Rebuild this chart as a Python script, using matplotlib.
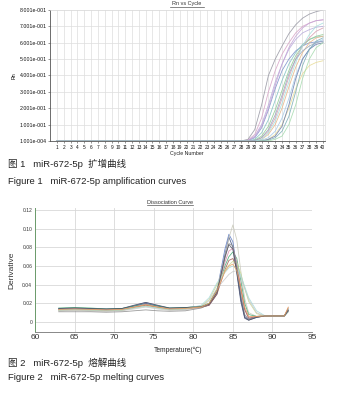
import matplotlib
matplotlib.use('Agg')
import matplotlib.pyplot as plt
from matplotlib.lines import Line2D

# ---- amplification data (Rn at cycles 28..40, flat before) ----
cycles = list(range(1, 41))
late_cycles = list(range(28, 41))
amp_curves = [
    [0.0, 0.01, 0.07, 0.22, 0.40, 0.50, 0.58, 0.655, 0.71, 0.75, 0.775, 0.79, 0.80],
    [0.0, 0.005, 0.04, 0.14, 0.30, 0.43, 0.53, 0.60, 0.66, 0.70, 0.72, 0.735, 0.74],
    [0.0, 0.003, 0.03, 0.10, 0.22, 0.36, 0.47, 0.56, 0.62, 0.66, 0.68, 0.695, 0.70],
    [0.0, 0.002, 0.02, 0.08, 0.19, 0.32, 0.43, 0.50, 0.55, 0.58, 0.60, 0.605, 0.61],
    [0.0, 0.0, 0.01, 0.05, 0.13, 0.25, 0.37, 0.47, 0.54, 0.59, 0.62, 0.635, 0.64],
    [0.0, 0.0, 0.005, 0.03, 0.09, 0.19, 0.31, 0.43, 0.52, 0.58, 0.62, 0.64, 0.65],
    [0.0, 0.003, 0.025, 0.09, 0.20, 0.34, 0.47, 0.57, 0.64, 0.69, 0.72, 0.735, 0.74],
    [0.0, 0.0, 0.0, 0.01, 0.04, 0.10, 0.20, 0.33, 0.45, 0.54, 0.60, 0.63, 0.64],
    [0.0, 0.0, 0.0, 0.005, 0.02, 0.06, 0.14, 0.26, 0.40, 0.50, 0.56, 0.60, 0.62],
    [0.0, 0.0, 0.0, 0.0, 0.01, 0.04, 0.10, 0.20, 0.32, 0.41, 0.46, 0.48, 0.49],
    [0.0, 0.0, 0.0, 0.0, 0.01, 0.03, 0.09, 0.22, 0.38, 0.50, 0.56, 0.59, 0.60],
    [0.0, 0.0, 0.0, 0.0, 0.005, 0.02, 0.06, 0.15, 0.30, 0.46, 0.56, 0.61, 0.63],
    [0.0, 0.0, 0.0, 0.0, 0.0, 0.01, 0.03, 0.10, 0.22, 0.38, 0.50, 0.57, 0.60],
    [0.0, 0.0, 0.002, 0.02, 0.06, 0.14, 0.26, 0.39, 0.50, 0.58, 0.63, 0.67, 0.69],
    [0.0, 0.0, 0.0, 0.01, 0.05, 0.12, 0.23, 0.36, 0.48, 0.58, 0.65, 0.70, 0.72],
    [0.0, 0.0, 0.003, 0.02, 0.07, 0.16, 0.28, 0.41, 0.50, 0.55, 0.58, 0.60, 0.61],
]
amp_colors = ['#9a9aa6', '#d8a6c8', '#b9addb', '#7f93cc', '#86c4c4', '#94cc94',
              '#c6a6d8', '#e8b888', '#a8cce8', '#e8dc98', '#6f7fae', '#7fb0b8',
              '#a8dcb0', '#d6a0b0', '#a8e0e0', '#98a8c0']
amp_yticks = [0.0001, 0.1001, 0.2001, 0.3001, 0.4001, 0.5001, 0.6001, 0.7001, 0.8001]
amp_ylabels = ['1.001e-004', '1.001e-001', '2.001e-001', '3.001e-001', '4.001e-001',
               '5.001e-001', '6.001e-001', '7.001e-001', '8.001e-001']

# ---- melt curve data ----
temps = [63, 65, 67, 69, 71, 72.5, 74, 75.5, 77, 79, 81, 82, 83, 84, 84.5, 85, 85.5,
         86, 86.5, 87, 88, 89, 90, 91.5, 92]
melt_curves = [
    [0.014, 0.0145, 0.014, 0.0135, 0.014, 0.017, 0.020, 0.017, 0.0145, 0.015, 0.016, 0.018, 0.030, 0.072, 0.091, 0.080, 0.052, 0.022, 0.004, 0.002, 0.005, 0.0065, 0.0065, 0.0065, 0.012],
    [0.0145, 0.015, 0.0145, 0.014, 0.0145, 0.0175, 0.021, 0.0175, 0.015, 0.0155, 0.0165, 0.019, 0.034, 0.078, 0.094, 0.086, 0.058, 0.027, 0.006, 0.003, 0.0055, 0.0065, 0.0065, 0.0065, 0.013],
    [0.012, 0.0125, 0.012, 0.012, 0.0125, 0.015, 0.018, 0.016, 0.014, 0.0145, 0.016, 0.020, 0.036, 0.070, 0.090, 0.104, 0.088, 0.055, 0.025, 0.010, 0.006, 0.0065, 0.0065, 0.0065, 0.012],
    [0.015, 0.0155, 0.015, 0.014, 0.0145, 0.017, 0.019, 0.017, 0.015, 0.0155, 0.017, 0.020, 0.035, 0.060, 0.070, 0.075, 0.068, 0.045, 0.020, 0.008, 0.006, 0.0065, 0.0065, 0.0065, 0.013],
    [0.0135, 0.014, 0.0135, 0.013, 0.0135, 0.016, 0.019, 0.016, 0.014, 0.0145, 0.016, 0.019, 0.033, 0.064, 0.076, 0.079, 0.064, 0.038, 0.014, 0.005, 0.006, 0.0065, 0.0065, 0.0065, 0.012],
    [0.013, 0.0135, 0.013, 0.0125, 0.013, 0.0155, 0.018, 0.0155, 0.0135, 0.014, 0.0155, 0.018, 0.030, 0.056, 0.066, 0.068, 0.058, 0.036, 0.013, 0.004, 0.006, 0.0065, 0.0065, 0.0065, 0.015],
    [0.0125, 0.013, 0.0125, 0.012, 0.0125, 0.015, 0.017, 0.015, 0.013, 0.014, 0.017, 0.024, 0.040, 0.055, 0.061, 0.065, 0.063, 0.052, 0.036, 0.022, 0.009, 0.0065, 0.0065, 0.0065, 0.011],
    [0.012, 0.0125, 0.012, 0.0115, 0.012, 0.014, 0.016, 0.014, 0.0125, 0.013, 0.016, 0.023, 0.036, 0.046, 0.051, 0.054, 0.055, 0.048, 0.036, 0.024, 0.010, 0.0065, 0.0065, 0.0065, 0.011],
    [0.013, 0.0135, 0.013, 0.0125, 0.013, 0.015, 0.017, 0.015, 0.0135, 0.014, 0.018, 0.026, 0.042, 0.053, 0.058, 0.060, 0.058, 0.050, 0.038, 0.026, 0.012, 0.007, 0.0065, 0.0065, 0.011],
    [0.011, 0.011, 0.011, 0.0105, 0.011, 0.012, 0.013, 0.012, 0.0115, 0.012, 0.015, 0.019, 0.032, 0.068, 0.084, 0.082, 0.060, 0.030, 0.008, 0.003, 0.005, 0.0065, 0.0065, 0.0065, 0.012],
    [0.0145, 0.015, 0.0145, 0.014, 0.0145, 0.018, 0.021, 0.018, 0.015, 0.0155, 0.0165, 0.019, 0.032, 0.070, 0.083, 0.078, 0.054, 0.025, 0.005, 0.002, 0.005, 0.0065, 0.0065, 0.0065, 0.012],
    [0.0135, 0.014, 0.0135, 0.013, 0.0135, 0.016, 0.0185, 0.016, 0.014, 0.0145, 0.016, 0.020, 0.034, 0.054, 0.060, 0.062, 0.055, 0.036, 0.016, 0.006, 0.006, 0.0065, 0.0065, 0.0065, 0.016],
]
melt_colors = ['#3a4a78', '#5a78c0', '#c8c8b8', '#40a870', '#d88aa8', '#a05a50',
               '#c8d890', '#c8c8c8', '#a8d8d8', '#8a8a8a', '#505060', '#e8a060']
melt_xticks = [60, 65, 70, 75, 80, 85, 90, 95]
melt_yticks = [0, 0.02, 0.04, 0.06, 0.08, 0.10, 0.12]
melt_ylabels = ['0', '0.02', '0.04', '0.06', '0.08', '0.10', '0.12']

W, H = 349, 397
fig = plt.figure(figsize=(W / 100, H / 100), dpi=100)
fig.patch.set_facecolor('white')
cap_font = ['Liberation Sans', 'Noto Sans CJK SC', 'DejaVu Sans']


def px_axes(l, t, r, b):
    return fig.add_axes([l / W, 1 - b / H, (r - l) / W, (b - t) / H])


def fig_text(x, y, s, **kw):
    return fig.text(x / W, 1 - y / H, s, **kw)


def underline(x0, x1, y):
    fig.add_artist(Line2D([x0 / W, x1 / W], [1 - y / H, 1 - y / H],
                          color='#555555', lw=0.5, transform=fig.transFigure))


# ---------- amplification plot ----------
ax1 = px_axes(50.2, 10, 325, 141)
for vals, col in zip(amp_curves, amp_colors):
    ys = [0.0] * (len(cycles) - len(late_cycles)) + vals
    ax1.plot(cycles, ys, color=col, lw=0.6, alpha=0.9)
ax1.set_xlim(0, 40.3)
ax1.set_ylim(0, 0.8)
ax1.set_xticks(cycles)
ax1.set_xticklabels([str(c) for c in cycles], fontsize=3.4, family='Liberation Sans',
                    color='#111111')
ax1.set_yticks(amp_yticks)
ax1.set_yticklabels(amp_ylabels, fontsize=3.8, family='Liberation Sans', color='#111111')
ax1.tick_params(axis='both', length=1.5, width=0.4, pad=1.2, colors='#444444')
for lab in ax1.get_xticklabels() + ax1.get_yticklabels():
    lab.set_color('#111111')
ax1.grid(True, color='#dddddd', lw=0.5)
ax1.set_axisbelow(True)
for side in ['top', 'right']:
    ax1.spines[side].set_color('#dddddd')
    ax1.spines[side].set_linewidth(0.5)
for side in ['left', 'bottom']:
    ax1.spines[side].set_color('#555555')
    ax1.spines[side].set_linewidth(0.6)
ax1.set_ylabel('Rn', fontsize=3.8, family='Liberation Sans', labelpad=2)
fig_text(187, 4, 'Rn vs Cycle', fontsize=4, family='Liberation Sans', color='#333333',
         ha='center', va='center')
underline(170, 204, 6.8)
fig_text(187, 154, 'Cycle Number', fontsize=3.8, family='Liberation Sans', color='#222222',
         ha='center', va='center')

fig_text(8, 164, '图 1   miR-672-5p  扩增曲线', fontsize=6.8, family=cap_font,
         color='#222222', ha='left', va='center')
fig_text(8, 181, 'Figure 1   miR-672-5p amplification curves', fontsize=6.8,
         family=cap_font, color='#222222', ha='left', va='center')

# ---------- melt plot ----------
ax2 = px_axes(35, 208.3, 312, 332.3)
for vals, col in zip(melt_curves, melt_colors):
    ax2.plot(temps, vals, color=col, lw=0.6, alpha=0.85)
ax2.set_xlim(60, 95)
ax2.set_ylim(-0.011, 0.1218)
ax2.set_xticks(melt_xticks)
ax2.set_xticklabels([str(t) for t in melt_xticks], fontsize=6, family='Liberation Sans')
ax2.set_yticks(melt_yticks)
ax2.set_yticklabels(melt_ylabels, fontsize=3.6, family='Liberation Sans', color='#222222')
ax2.tick_params(axis='both', length=0, pad=2, colors='#333333')
ax2.tick_params(axis='x', pad=1.5)
ax2.grid(True, color='#d8d8d8', lw=0.6)
ax2.set_axisbelow(True)
ax2.spines['top'].set_visible(False)
ax2.spines['right'].set_visible(False)
ax2.spines['left'].set_color('#6a9a6a')
ax2.spines['left'].set_linewidth(0.7)
ax2.spines['bottom'].set_color('#888888')
ax2.spines['bottom'].set_linewidth(0.7)
ax2.set_ylabel('Derivative', fontsize=6, family='Liberation Sans', color='#333333',
               labelpad=5)
fig_text(170, 202.5, 'Dissociation Curve', fontsize=4, family='Liberation Sans',
         color='#333333', ha='center', va='center')
underline(147, 193, 205.3)
fig_text(178, 350, 'Temperature(℃)', fontsize=4.8, family=['Liberation Sans', 'Noto Sans CJK SC'],
         color='#222222', ha='center', va='center')

fig_text(8, 363, '图 2   miR-672-5p  熔解曲线', fontsize=6.8, family=cap_font,
         color='#222222', ha='left', va='center')
fig_text(8, 378, 'Figure 2   miR-672-5p melting curves', fontsize=6.8,
         family=cap_font, color='#222222', ha='left', va='center')

fig.savefig('out.png', dpi=100)
